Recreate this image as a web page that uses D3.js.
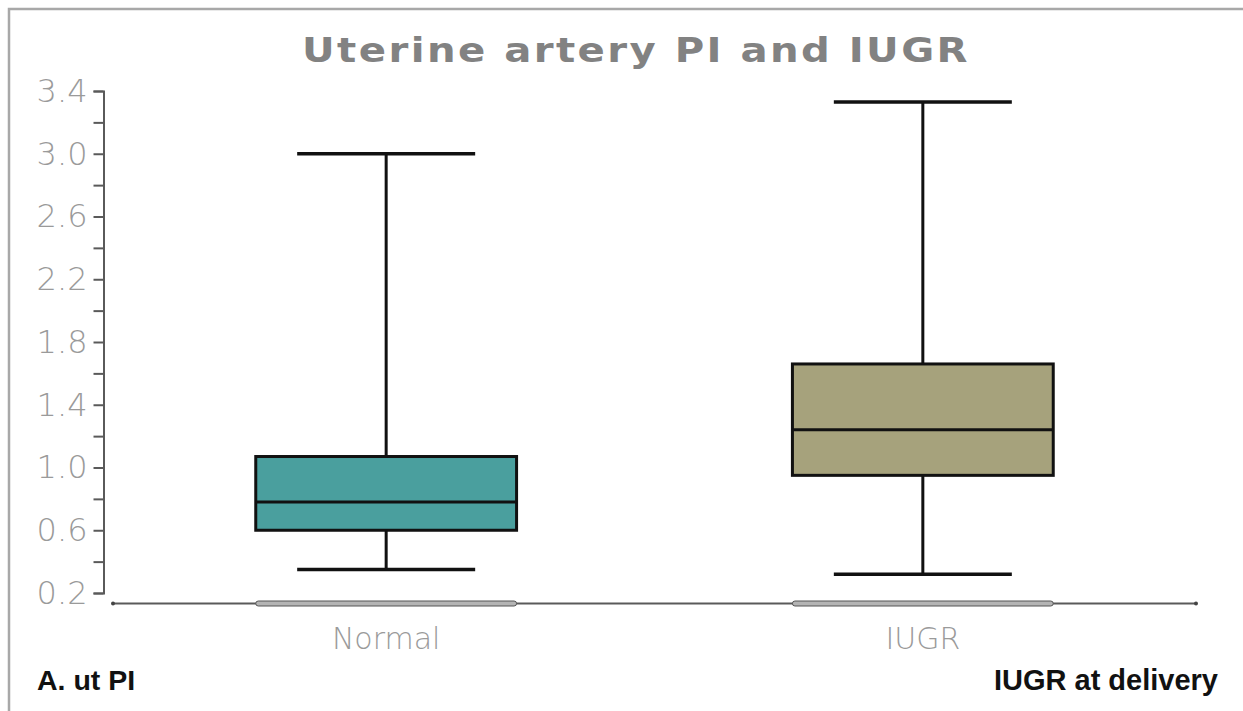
<!DOCTYPE html>
<html>
<head>
<meta charset="utf-8">
<script src="https://cdn.jsdelivr.net/npm/d3@7"></script>
<style>
  body { margin: 0; background: #fff; }
  svg { display: block; }
</style>
</head>
<body>
<div id="chart"></div>
<script>
// box plot values
const groups = ["Normal", "IUGR"];
const whiskerLow = [0.35, 0.32];
const q1 = [0.60, 0.95];
const median = [0.78, 1.24];
const q3 = [1.07, 1.66];
const whiskerHigh = [3.00, 3.33];
const boxColors = ["#4a9f9e", "#a6a27c"];

// y ticks: every 0.2, labels every 0.4
const yTickValues = [0.2, 0.4, 0.6, 0.8, 1.0, 1.2, 1.4, 1.6, 1.8, 2.0, 2.2, 2.4, 2.6, 2.8, 3.0, 3.2, 3.4];
const yTickLabels = ["0.2", "0.6", "1.0", "1.4", "1.8", "2.2", "2.6", "3.0", "3.4"];

const width = 1243, height = 711;

let svg = d3.select("#chart")
    .append("svg")
    .attr("width", width)
    .attr("height", height);

// frame (only top and left edges visible)
svg.append("path")
    .attr("d", "M9,711V9H1243")
    .attr("fill", "none")
    .attr("stroke", "#a8a8a8")
    .attr("stroke-width", 2.5);

// scales
let y = d3.scaleLinear()
    .domain([0.2, 3.4])
    .range([593, 91]);

let x = d3.scaleBand()
    .domain(groups)
    .range([113, 1196])
    .paddingInner(0.514)
    .paddingOuter(0.266);

// title - wide letters, stretched to the width seen in the picture
svg.append("text")
    .attr("x", 302)
    .attr("y", 62)
    .attr("textLength", 668)
    .attr("lengthAdjust", "spacingAndGlyphs")
    .style("font-family", "'DejaVu Sans', Verdana, sans-serif")
    .style("font-weight", "bold")
    .style("font-size", "33px")
    .style("letter-spacing", "2px")
    .style("fill", "#828282")
    .text("Uterine artery PI and IUGR");

// y axis with bracket ends
let yAxis = d3.axisLeft(y)
    .tickValues(yTickValues)
    .tickSize(10)
    .tickSizeOuter(10)
    .tickPadding(6)
    .tickFormat(d => yTickLabels.includes(d.toFixed(1)) ? d.toFixed(1) : "");

let gy = svg.append("g")
    .attr("transform", "translate(103.5,0)")
    .call(yAxis);

gy.select(".domain")
    .attr("stroke", "#5a5a5a")
    .attr("stroke-width", 2);
gy.selectAll(".tick line")
    .attr("stroke", "#5a5a5a")
    .attr("stroke-width", 2);
gy.selectAll(".tick text")
    .style("font-family", "'DejaVu Sans', sans-serif")
    .style("font-weight", "200")
    .style("font-size", "32px")
    .attr("fill", "#9a9a9a");

// x axis baseline
let axisY = 603.5;
let [x0, x1] = x.range();
svg.append("line")
    .attr("x1", x0).attr("x2", x1)
    .attr("y1", axisY).attr("y2", axisY)
    .attr("stroke", "#5a5a5a")
    .attr("stroke-width", 2);
svg.selectAll(".axis-end")
    .data([x0, x1])
    .enter()
    .append("circle")
    .attr("cx", d => d)
    .attr("cy", axisY)
    .attr("r", 2)
    .attr("fill", "#444");

// category bands on the axis
svg.selectAll(".band")
    .data(groups)
    .enter()
    .append("rect")
    .attr("x", d => x(d))
    .attr("y", axisY - 2.5)
    .attr("width", x.bandwidth())
    .attr("height", 5)
    .attr("rx", 2.5)
    .attr("fill", "#b4b4b4")
    .attr("stroke", "#555")
    .attr("stroke-width", 1);

// category labels
svg.selectAll(".cat-label")
    .data(groups)
    .enter()
    .append("text")
    .attr("x", d => x(d) + x.bandwidth() / 2)
    .attr("y", 649)
    .attr("text-anchor", "middle")
    .style("font-family", "'DejaVu Sans', sans-serif")
    .style("font-weight", "200")
    .style("font-size", "30px")
    .style("fill", "#9a9a9a")
    .text(d => d);

// boxes
let capW = 178;
let box = svg.selectAll(".box")
    .data(groups)
    .enter()
    .append("g")
    .attr("transform", d => "translate(" + (x(d) + x.bandwidth() / 2) + ",0)");

box.append("line")
    .attr("x1", 0).attr("x2", 0)
    .attr("y1", (d, i) => y(whiskerHigh[i]))
    .attr("y2", (d, i) => y(whiskerLow[i]))
    .attr("stroke", "#111")
    .attr("stroke-width", 3);

box.append("rect")
    .attr("x", -x.bandwidth() / 2)
    .attr("width", x.bandwidth())
    .attr("y", (d, i) => y(q3[i]))
    .attr("height", (d, i) => y(q1[i]) - y(q3[i]))
    .attr("fill", (d, i) => boxColors[i])
    .attr("stroke", "#111")
    .attr("stroke-width", 3);

box.append("line")
    .attr("x1", -x.bandwidth() / 2).attr("x2", x.bandwidth() / 2)
    .attr("y1", (d, i) => y(median[i]))
    .attr("y2", (d, i) => y(median[i]))
    .attr("stroke", "#111")
    .attr("stroke-width", 3);

[whiskerHigh, whiskerLow].forEach(arr => {
    box.append("line")
        .attr("x1", -capW / 2).attr("x2", capW / 2)
        .attr("y1", (d, i) => y(arr[i]))
        .attr("y2", (d, i) => y(arr[i]))
        .attr("stroke", "#111")
        .attr("stroke-width", 3.5);
});

// corner notes
svg.append("text")
    .attr("x", 37)
    .attr("y", 690)
    .style("font-family", "'Liberation Sans', Arial, sans-serif")
    .style("font-weight", "bold")
    .style("font-size", "28.5px")
    .style("fill", "#111")
    .text("A. ut PI");

svg.append("text")
    .attr("x", 1218)
    .attr("y", 690)
    .attr("text-anchor", "end")
    .style("font-family", "'Liberation Sans', Arial, sans-serif")
    .style("font-weight", "bold")
    .style("font-size", "29px")
    .style("fill", "#111")
    .text("IUGR at delivery");
</script>
</body>
</html>
